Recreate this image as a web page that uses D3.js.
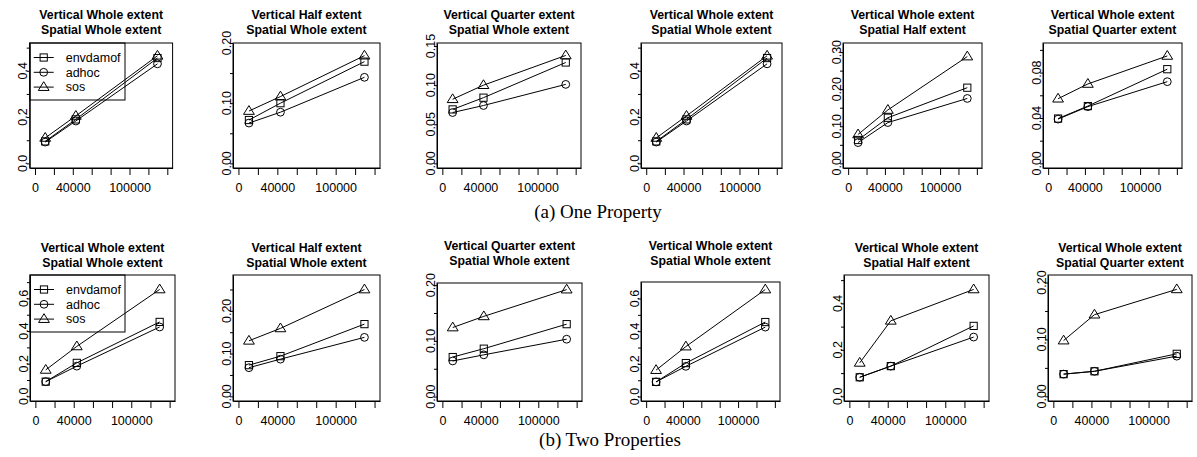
<!DOCTYPE html>
<html><head><meta charset="utf-8">
<script src="https://cdn.jsdelivr.net/npm/d3@7"></script>
<style>body{margin:0;background:#fff}svg{display:block}</style>
</head><body><svg id="c" width="1197" height="457"></svg>
<script>
// ---------------- data ----------------
const xValues = [10800, 43200, 129600];
const seriesNames = ["envdamof", "adhoc", "sos"];
const titleTop = ["Vertical Whole extent","Vertical Half extent","Vertical Quarter extent","Vertical Whole extent","Vertical Whole extent","Vertical Whole extent",
                  "Vertical Whole extent","Vertical Half extent","Vertical Quarter extent","Vertical Whole extent","Vertical Whole extent","Vertical Whole extent"];
const titleBottom = ["Spatial Whole extent","Spatial Whole extent","Spatial Whole extent","Spatial Whole extent","Spatial Half extent","Spatial Quarter extent",
                     "Spatial Whole extent","Spatial Whole extent","Spatial Whole extent","Spatial Whole extent","Spatial Half extent","Spatial Quarter extent"];
const envdamof = [
  [0.095, 0.190, 0.455],
  [0.072, 0.100, 0.169],
  [0.069, 0.084, 0.129],
  [0.095, 0.190, 0.455],
  [0.063, 0.123, 0.204],
  [0.0395, 0.0505, 0.083],
  [0.090, 0.205, 0.456],
  [0.073, 0.094, 0.169],
  [0.071, 0.086, 0.130],
  [0.090, 0.205, 0.456],
  [0.082, 0.130, 0.303],
  [0.039, 0.044, 0.0747]
];
const adhoc = [
  [0.092, 0.183, 0.430],
  [0.067, 0.085, 0.143],
  [0.065, 0.074, 0.101],
  [0.092, 0.183, 0.430],
  [0.056, 0.110, 0.175],
  [0.039, 0.050, 0.072],
  [0.090, 0.185, 0.425],
  [0.067, 0.087, 0.138],
  [0.064, 0.075, 0.103],
  [0.090, 0.185, 0.425],
  [0.082, 0.130, 0.255],
  [0.039, 0.044, 0.0706]
];
const sos = [
  [0.110, 0.205, 0.465],
  [0.087, 0.111, 0.179],
  [0.082, 0.100, 0.138],
  [0.110, 0.205, 0.465],
  [0.078, 0.144, 0.288],
  [0.057, 0.070, 0.0947],
  [0.162, 0.306, 0.655],
  [0.130, 0.159, 0.250],
  [0.124, 0.144, 0.192],
  [0.162, 0.306, 0.655],
  [0.144, 0.325, 0.460],
  [0.098, 0.1435, 0.188]
];
const yMax = [0.50, 0.1923, 0.148, 0.50, 0.312, 0.102, 0.715, 0.273, 0.196, 0.674, 0.502, 0.205];
const yTicks = [
  [0,0.1,0.2,0.3,0.4,0.5],
  [0,0.05,0.10,0.15,0.20],
  [0,0.05,0.10,0.15],
  [0,0.1,0.2,0.3,0.4,0.5],
  [0,0.05,0.10,0.15,0.20,0.25,0.30],
  [0,0.02,0.04,0.06,0.08,0.10],
  [0,0.1,0.2,0.3,0.4,0.5,0.6,0.7],
  [0,0.05,0.10,0.15,0.20,0.25],
  [0,0.05,0.10,0.15,0.20],
  [0,0.1,0.2,0.3,0.4,0.5,0.6],
  [0,0.1,0.2,0.3,0.4,0.5],
  [0,0.05,0.10,0.15,0.20]
];
const yLabels = [
  ["0.0","0.2","0.4"],
  ["0.00","0.10","0.20"],
  ["0.00","0.05","0.10","0.15"],
  ["0.0","0.2","0.4"],
  ["0.00","0.10","0.20","0.30"],
  ["0.00","0.04","0.08"],
  ["0.0","0.2","0.4","0.6"],
  ["0.00","0.10","0.20"],
  ["0.00","0.10","0.20"],
  ["0.0","0.2","0.4","0.6"],
  ["0.0","0.2","0.4"],
  ["0.00","0.10","0.20"]
];
const xTicks = [0, 20000, 40000, 60000, 80000, 100000, 120000, 140000];
const xLabels = [0, 40000, 100000];
const xLimits = [0, 140000];
const captions = ["(a) One Property", "(b) Two Properties"];

// ---------------- layout ----------------
const boxes = [
  {l:29.7, r:172.6, t:43, b:168, t1:19, t2:33.5}, {l:233, r:380, t:43, b:168, t1:19, t2:33.5}, {l:437, r:581, t:43, b:168, t1:19, t2:33.5},
  {l:641, r:782, t:43, b:168, t1:19, t2:33.5}, {l:843, r:982, t:43, b:168, t1:19, t2:33.5}, {l:1043, r:1182, t:43, b:168, t1:19, t2:33.5},
  {l:30, r:175, t:275, b:401, t1:252, t2:266.5}, {l:233, r:380, t:275, b:401, t1:252, t2:266.5}, {l:437, r:582, t:283, b:401, t1:249.5, t2:264.5},
  {l:641, r:780, t:282, b:401, t1:250, t2:265}, {l:844, r:989, t:275, b:401, t1:252, t2:266.5}, {l:1048, r:1192, t:275, b:401, t1:252, t2:266.5}
];
const captionPos = [{x:598, y:218}, {x:610, y:446}];

const svg = d3.select("#c");
svg.append("rect").attr("width",1197).attr("height",457).attr("fill","#fff");
const SANS = "'Liberation Sans', Arial, Helvetica, sans-serif";
const series = [envdamof, adhoc, sos];
const shapes = ["square","circle","triangle"];

function marker(g, shape, x, y) {
  if (shape === "square") {
    g.append("rect").attr("x", x-3.6).attr("y", y-3.6).attr("width", 7.2).attr("height", 7.2)
      .attr("fill","none").attr("stroke","#000").attr("stroke-width",1);
  } else if (shape === "circle") {
    g.append("circle").attr("cx", x).attr("cy", y).attr("r", 3.9)
      .attr("fill","none").attr("stroke","#000").attr("stroke-width",1);
  } else {
    const s = 5.4;
    g.append("path").attr("d", `M${x},${y-s}L${x+s*1.0},${y+s*0.62}L${x-s*1.0},${y+s*0.62}Z`)
      .attr("fill","none").attr("stroke","#000").attr("stroke-width",1);
  }
}

boxes.forEach((bx, p) => {
  const g = svg.append("g");
  const ext = (xLimits[1]-xLimits[0])*0.04;
  const x = d3.scaleLinear().domain([xLimits[0]-ext, xLimits[1]+ext]).range([bx.l, bx.r]);
  const M = yMax[p];
  const y = d3.scaleLinear().domain([-0.04*M, 1.04*M]).range([bx.b, bx.t]);

  // box
  g.append("rect").attr("x", bx.l).attr("y", bx.t).attr("width", bx.r-bx.l).attr("height", bx.b-bx.t)
    .attr("fill","none").attr("stroke","#000").attr("stroke-width",1);

  // x axis
  const xa = d3.axisBottom(x).tickValues(xTicks).tickSize(7).tickSizeOuter(0)
    .tickFormat(d => xLabels.includes(d) ? String(d) : "");
  const xg = g.append("g").attr("transform", `translate(0,${bx.b})`).call(xa);
  xg.select(".domain").attr("stroke","#000");
  xg.selectAll("text").attr("font-family", SANS).attr("font-size", 12.5).attr("fill","#000")
    .attr("y", 10).attr("dy", 14);

  // y axis
  const ya = d3.axisLeft(y).tickValues(yTicks[p]).tickSize(3).tickSizeOuter(0).tickFormat("");
  const yg = g.append("g").attr("transform", `translate(${bx.l},0)`).call(ya);
  yg.select(".domain").attr("stroke","#000");
  yLabels[p].forEach(lbl => {
    const v = +lbl;
    g.append("text").attr("transform", `translate(${bx.l-2.5},${y(v)}) rotate(-90)`)
      .attr("text-anchor","middle").attr("font-family", SANS).attr("font-size", 12.5).text(lbl);
  });

  // titles
  const cx = (bx.l + bx.r)/2;
  g.append("text").attr("x", cx).attr("y", bx.t1).attr("text-anchor","middle")
    .attr("font-family", SANS).attr("font-weight","bold").attr("font-size", 12.3).text(titleTop[p]);
  g.append("text").attr("x", cx).attr("y", bx.t2).attr("text-anchor","middle")
    .attr("font-family", SANS).attr("font-weight","bold").attr("font-size", 12.3).text(titleBottom[p]);

  // series
  series.forEach((s, si) => {
    const pts = xValues.map((xv, i) => [x(xv), y(s[p][i])]);
    g.append("path").attr("d", d3.line()(pts)).attr("fill","none").attr("stroke","#000").attr("stroke-width",1);
    pts.forEach(pt => marker(g, shapes[si], pt[0], pt[1]));
  });

  // legend in first panel of each row
  if (p === 0 || p === 6) {
    const lg = g.append("g");
    lg.append("rect").attr("x", bx.l).attr("y", bx.t).attr("width", 125 - bx.l).attr("height", 57)
      .attr("fill","none").attr("stroke","#000").attr("stroke-width",1);
    seriesNames.forEach((nm, i) => {
      const ly = bx.t + 14.5 + i*14.8;
      lg.append("line").attr("x1", bx.l+4).attr("x2", bx.l+24).attr("y1", ly).attr("y2", ly).attr("stroke","#000");
      marker(lg, shapes[i], bx.l+14, ly);
      lg.append("text").attr("x", bx.l+36).attr("y", ly).attr("dy","0.35em")
        .attr("font-family", SANS).attr("font-size", 12.5).text(nm);
    });
  }
});

captions.forEach((c, i) => {
  svg.append("text").attr("x", captionPos[i].x).attr("y", captionPos[i].y).attr("text-anchor","middle")
    .attr("font-family","'Liberation Serif', 'Times New Roman', serif").attr("font-size", 19).text(c);
});
</script>
</body></html>
